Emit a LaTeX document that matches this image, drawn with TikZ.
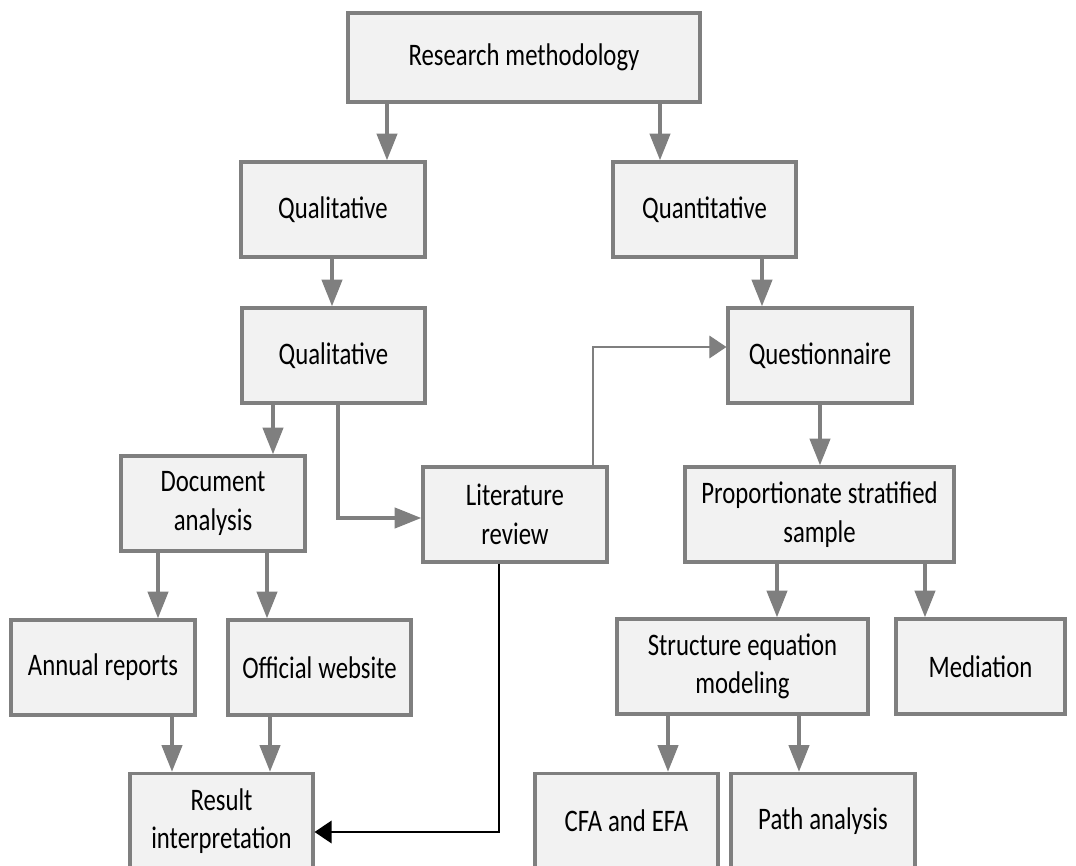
\documentclass[tikz,border=0pt]{standalone}
\usepackage{fontspec}
\setmainfont{Carlito}[FakeStretch=0.79]
\usetikzlibrary{arrows.meta}
\definecolor{boxfill}{HTML}{F2F2F2}
\definecolor{boxline}{HTML}{7F7F7F}
\begin{document}
\begin{tikzpicture}[x=0.75pt,y=-0.75pt,
  box/.style={draw=boxline,fill=boxfill,line width=2.4pt,align=center,
    inner sep=0pt,font=\fontsize{23.5}{29}\selectfont,
    execute at begin node={\spaceskip=0.19em plus 0.1em\relax}},
  wh/.style 2 args={minimum width=#1*0.75pt,minimum height=#2*0.75pt},
  arr/.style={draw=boxline,line width=3pt,-{Triangle[length=20pt,width=15pt]}},
  thinarr/.style={draw=boxline,line width=0.8pt,-{Triangle[length=12.75pt,width=17pt]}},
  blkarr/.style={draw=black,line width=1pt,-{Triangle[length=12.75pt,width=17pt]}}]
\useasboundingbox (0,0) rectangle (1076,866);

% boxes
\node[box,wh={352}{89}] (rm)    at (524,57.5)   {Research methodology};
\node[box,wh={184}{95}] (qual1) at (333,209.5)  {Qualitative};
\node[box,wh={183}{95}] (quant) at (704.5,209.5){Quantitative};
\node[box,wh={183}{95}] (qual2) at (333.5,355.5){Qualitative};
\node[box,wh={184}{95}] (quest) at (820,355.5)  {Questionnaire};
\node[box,wh={184}{95}] (doc)   at (213,503.5)  {Document\\analysis};
\node[box,wh={184}{95}] (lit)   at (515,514.5)  {Literature\\review};
\node[box,wh={269}{95}] (pss)   at (819.5,514.5){Proportionate stratified\\sample};
\node[box,wh={184}{95}] (ar)    at (103,667.5)  {Annual reports};
\node[box,wh={183}{95}] (ow)    at (319.5,667.5){Official website};
\node[box,wh={251}{95}] (sem)   at (742.5,666.5){Structure equation\\modeling};
\node[box,wh={169}{95}] (med)   at (980.5,666.5){Mediation};
\node[box,wh={183}{95}] (ri)    at (221.5,821)  {Result\\interpretation};
\node[box,wh={183}{95}] (cfa)   at (626.5,821)  {CFA and EFA};
\node[box,wh={184}{95}] (path)  at (823,821)    {Path analysis};

% thick connectors
\draw[arr] (rm.south -| 387,0) -- (qual1.north -| 387,0);
\draw[arr] (rm.south -| 660,0) -- (quant.north -| 660,0);
\draw[arr] (qual1.south -| 332,0) -- (qual2.north -| 332,0);
\draw[arr] (quant.south -| 762,0) -- (quest.north -| 762,0);
\draw[arr] (qual2.south -| 273,0) -- (doc.north -| 273,0);
\draw[arr] (qual2.south -| 338,0) |- (lit.west |- 0,518);
\draw[arr] (quest.south -| 820,0) -- (pss.north -| 820,0);
\draw[arr] (doc.south -| 158,0) -- (ar.north -| 158,0);
\draw[arr] (doc.south -| 267,0) -- (ow.north -| 267,0);
\draw[arr] (pss.south -| 777,0) -- (sem.north -| 777,0);
\draw[arr] (pss.south -| 925,0) -- (med.north -| 925,0);
\draw[arr] (ar.south -| 172,0) -- (ri.north -| 172,0);
\draw[arr] (ow.south -| 270,0) -- (ri.north -| 270,0);
\draw[arr] (sem.south -| 668,0) -- (cfa.north -| 668,0);
\draw[arr] (sem.south -| 799,0) -- (path.north -| 799,0);

% thin connectors from the literature review
\draw[thinarr] (lit.north -| 593,0) |- (quest.west |- 0,347);
\draw[blkarr] (lit.south -| 499,0) |- (ri.east |- 0,832);
\end{tikzpicture}
\end{document}
